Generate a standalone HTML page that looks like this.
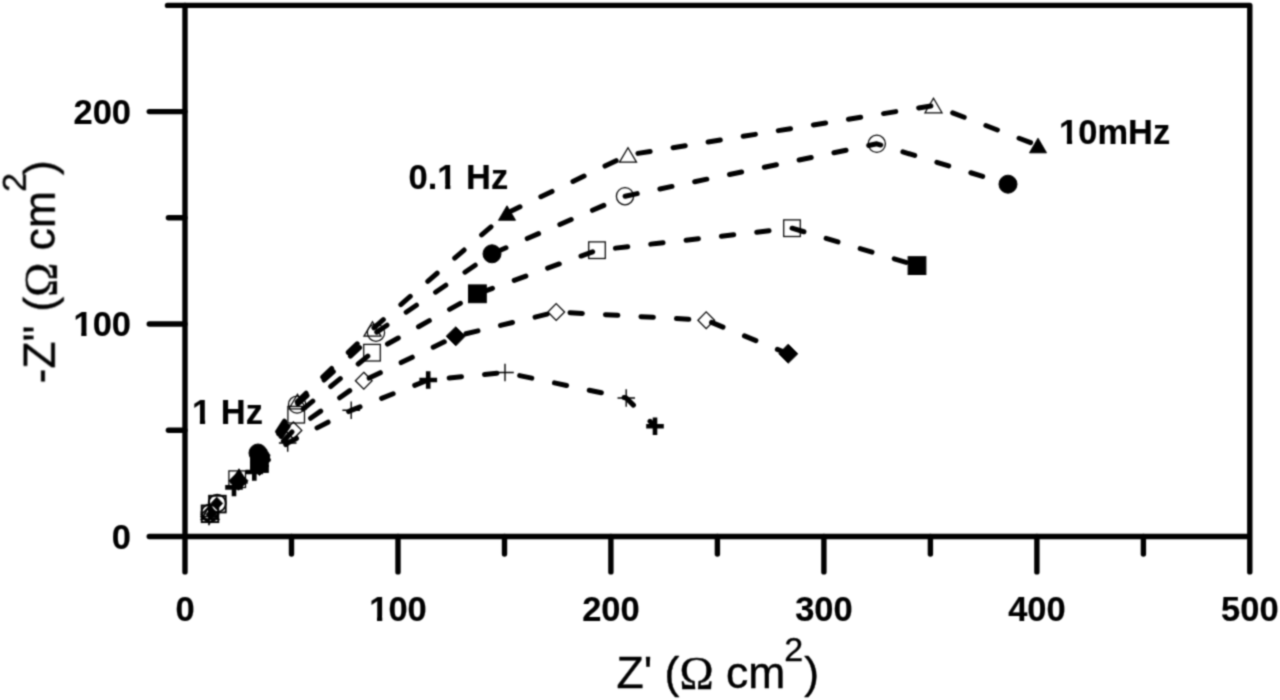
<!DOCTYPE html>
<html><head><meta charset="utf-8"><title>Nyquist plot</title>
<style>html,body{margin:0;padding:0;background:#fff;}body{width:1280px;height:700px;overflow:hidden;}svg{display:block;}text{font-family:"Liberation Sans",sans-serif;fill:#000;stroke:#000;stroke-width:0.4;stroke-linejoin:round;}.b{font-weight:bold;font-size:35px;stroke-width:0.2;}.t{font-size:44.5px;}.om{font-family:"Liberation Serif","DejaVu Serif",serif;}.ax{stroke:#000;stroke-width:5.4;stroke-linecap:round;stroke-linejoin:round;fill:none;}.d{stroke:#000;stroke-width:5;fill:none;stroke-dasharray:12.4 23.15;stroke-linecap:round;stroke-linejoin:round;}.o{fill:#fff;fill-opacity:0;stroke:#000;}.o{stroke-width:1.25;}g[style] .o,g[style] .pt{stroke-width:inherit;}.f{fill:#000;stroke:#000;stroke-width:1;}.pt{stroke:#000;stroke-width:1.4;fill:none;}.pb{stroke:#000;stroke-width:4.6;fill:none;}</style></head><body>
<svg width="1280" height="700" viewBox="0 0 1280 700">
<defs><filter id="bl" x="-1%" y="-1%" width="102%" height="102%" color-interpolation-filters="sRGB"><feConvolveMatrix order="5" kernelMatrix="0.00014 0.00247 0.00648 0.00247 0.00014 0.00247 0.04462 0.11705 0.04462 0.00247 0.00648 0.11705 0.30708 0.11705 0.00648 0.00247 0.04462 0.11705 0.04462 0.00247 0.00014 0.00247 0.00648 0.00247 0.00014" edgeMode="none" preserveAlpha="false"/></filter></defs>
<rect width="1280" height="700" fill="#fff"/>
<g filter="url(#bl)">
<g class="ax">
<path d="M185.0 5.4V571.9"/>
<path d="M167.5 5.4H1249.8V571.9"/>
<path d="M149.25 536.5H1248.8"/>
<path d="M149.25 324.0H185.0"/>
<path d="M149.25 111.6H185.0"/>
<path d="M168.4 430.2H185.0"/>
<path d="M168.4 217.8H185.0"/>
<path d="M398.0 536.5V571.9"/>
<path d="M610.9 536.5V571.9"/>
<path d="M823.9 536.5V571.9"/>
<path d="M1036.9 536.5V571.9"/>
<path d="M291.5 536.5V554.1"/>
<path d="M504.5 536.5V554.1"/>
<path d="M717.4 536.5V554.1"/>
<path d="M930.4 536.5V554.1"/>
<path d="M1143.4 536.5V554.1"/>
</g>
<text class="b" transform="translate(131.0 548.6) scale(0.985 1)" text-anchor="end">0</text>
<text class="b" transform="translate(131.0 336.1) scale(0.985 1)" text-anchor="end">100</text>
<rect fill="#fff" x="74.85" y="332" width="6.42" height="5"/>
<rect fill="#fff" x="86.51" y="332" width="5.99" height="5"/>
<text class="b" transform="translate(131.0 123.7) scale(0.985 1)" text-anchor="end">200</text>
<text class="b" transform="translate(185.0 620.8) scale(0.985 1)" text-anchor="middle">0</text>
<text class="b" transform="translate(398.0 620.8) scale(0.985 1)" text-anchor="middle">100</text>
<rect fill="#fff" x="370.58" y="616" width="6.42" height="6"/>
<rect fill="#fff" x="382.24" y="616" width="5.99" height="6"/>
<text class="b" transform="translate(610.9 620.8) scale(0.985 1)" text-anchor="middle">200</text>
<text class="b" transform="translate(823.9 620.8) scale(0.985 1)" text-anchor="middle">300</text>
<text class="b" transform="translate(1036.9 620.8) scale(0.985 1)" text-anchor="middle">400</text>
<text class="b" transform="translate(1249.8 620.8) scale(0.985 1)" text-anchor="middle">500</text>
<text class="b" transform="translate(408.6 188.7) scale(0.985 1)" text-anchor="start">0.1 Hz</text>
<rect fill="#fff" x="438.72" y="184" width="6.42" height="5"/>
<rect fill="#fff" x="450.38" y="184" width="5.99" height="5"/>
<text class="b" transform="translate(192.1 423.5) scale(0.985 1)" text-anchor="start">1 Hz</text>
<rect fill="#fff" x="193.47" y="419" width="6.42" height="5"/>
<rect fill="#fff" x="205.13" y="419" width="5.99" height="5"/>
<text class="b" transform="translate(1059.1 143.8) scale(0.985 1)" text-anchor="start">10mHz</text>
<rect fill="#fff" x="1060.47" y="139" width="6.42" height="6"/>
<rect fill="#fff" x="1072.13" y="139" width="5.99" height="6"/>
<text class="t" transform="translate(616.5 687.6) scale(1 1)">Z' (<tspan class="om" font-size="46" dy="1.8">Ω</tspan><tspan dy="-1.8"> </tspan>cm<tspan dy="-26.5" dx="-1" font-size="34">2</tspan><tspan dy="26.5" dx="1">)</tspan></text>
<text class="t" transform="translate(54.7 383.4) rotate(-90)">-Z&quot;<tspan dx="1.5"> (</tspan><tspan class="om" font-size="46" dy="1.8">Ω</tspan><tspan dy="-1.8"> </tspan>cm<tspan dy="-29.5" dx="-1" font-size="34">2</tspan><tspan dy="29.5" dx="-2">)</tspan></text>
<polyline class="d" stroke-dashoffset="6.3" points="261.6,456.0 297.5,401.5 372.5,329.0 507.0,213.0 628.0,155.0 933.5,105.5 1038.0,145.5"/>
<polyline class="d" stroke-dashoffset="7.0" points="263.5,458.0 297.1,404.6 376.0,332.7 492.0,253.8 625.0,196.2 876.8,143.8 1008.0,184.2"/>
<polyline class="d" stroke-dashoffset="3.2" points="262.5,463.0 296.2,414.7 372.0,352.7 477.4,293.8 597.0,250.2 792.0,228.2 917.0,265.6"/>
<polyline class="d" stroke-dashoffset="0.9" points="259.5,466.0 293.4,430.4 363.8,380.7 455.8,336.2 556.2,312.0 706.2,320.2 788.2,353.8"/>
<polyline class="d" stroke-dashoffset="29.4" points="254.3,472.0 287.7,443.0 351.2,410.3 428.2,380.0 505.0,372.5 626.2,398.0 655.0,426.2"/>
<path class="f" d="M259.0 447.8L267.5 462.2H250.5Z"/>
<path class="o" d="M297.5 394.2L306.0 408.8H289.0Z"/>
<path class="o" d="M372.5 321.8L381.0 336.2H364.0Z"/>
<path class="f" d="M507.0 205.8L515.5 220.2H498.5Z"/>
<path class="o" d="M628.0 147.8L636.5 162.2H619.5Z"/>
<path class="o" d="M933.5 98.2L942.0 112.8H925.0Z"/>
<path class="f" d="M1038.0 138.2L1046.5 152.8H1029.5Z"/>
<circle class="f" cx="258.0" cy="453.0" r="9.0"/>
<circle class="o" cx="297.1" cy="404.6" r="8.6"/>
<circle class="o" cx="376.0" cy="332.7" r="8.6"/>
<circle class="f" cx="492.0" cy="253.8" r="9.0"/>
<circle class="o" cx="625.0" cy="196.2" r="8.6"/>
<circle class="o" cx="876.8" cy="143.8" r="8.6"/>
<circle class="f" cx="1008.0" cy="184.2" r="9.0"/>
<rect class="f" x="250.5" y="454.6" width="17.8" height="17.8"/>
<rect class="o" x="287.9" y="406.4" width="16.6" height="16.6"/>
<rect class="o" x="363.7" y="344.4" width="16.6" height="16.6"/>
<rect class="f" x="468.5" y="284.9" width="17.8" height="17.8"/>
<rect class="o" x="588.7" y="241.9" width="16.6" height="16.6"/>
<rect class="o" x="783.7" y="219.9" width="16.6" height="16.6"/>
<rect class="f" x="908.1" y="256.7" width="17.8" height="17.8"/>
<path class="f" d="M259.5 456.5L269.0 466.0L259.5 475.5L250.0 466.0Z"/>
<path class="o" d="M293.4 422.0L301.8 430.4L293.4 438.8L285.0 430.4Z"/>
<path class="o" d="M363.8 372.3L372.1 380.7L363.8 389.1L355.4 380.7Z"/>
<path class="f" d="M455.8 326.8L465.2 336.2L455.8 345.8L446.2 336.2Z"/>
<path class="o" d="M556.2 303.6L564.6 312.0L556.2 320.4L547.9 312.0Z"/>
<path class="o" d="M706.2 311.9L714.6 320.2L706.2 328.6L697.9 320.2Z"/>
<path class="f" d="M788.2 344.2L797.8 353.8L788.2 363.2L778.8 353.8Z"/>
<path class="pb" d="M245.5 472.0H263.1M254.3 463.2V480.8"/>
<path class="pt" d="M278.9 443.0H296.5M287.7 434.2V451.8"/>
<path class="pt" d="M342.4 410.3H360.0M351.2 401.5V419.1"/>
<path class="pb" d="M419.4 380.0H437.1M428.2 371.2V388.8"/>
<path class="pt" d="M496.2 372.5H513.8M505.0 363.7V381.3"/>
<path class="pt" d="M617.5 398.0H635.0M626.2 389.2V406.8"/>
<path class="pb" d="M646.2 426.2H663.8M655.0 417.4V435.1"/>
<rect class="o" x="228.9" y="470.9" width="16.6" height="16.6"/>
<path class="f" d="M239.0 468.8L247.5 483.2H230.5Z"/>
<path class="f" d="M238.5 471.3L248.0 480.8L238.5 490.3L229.0 480.8Z"/>
<path class="pb" d="M225.2 487.4H242.8M234.0 478.6V496.2"/>
<g style="stroke-width:1.9">
<rect class="o" x="209.1" y="495.8" width="16.6" height="16.6"/>
<rect class="o" x="201.7" y="505.5" width="16.6" height="16.6"/>
</g>
<g style="stroke-width:1.7">
<circle class="o" cx="217.2" cy="503.2" r="8.6"/>
<circle class="o" cx="210.0" cy="513.0" r="8.6"/>
<path class="o" d="M210.0 504.8L218.5 519.2H201.5Z"/>
<path class="o" d="M209.8 506.1L218.2 514.5L209.8 522.9L201.4 514.5Z"/>
<path class="pt" d="M200.2 516.5H217.8M209.0 507.7V525.3"/>
</g>
<path class="f" d="M216.8 497.3L222.6 503.4L216.8 509.5L211 503.4Z"/>
<path class="f" d="M211 509L216 514.5L211 520L206 514.5Z"/>
</g></svg></body></html>
